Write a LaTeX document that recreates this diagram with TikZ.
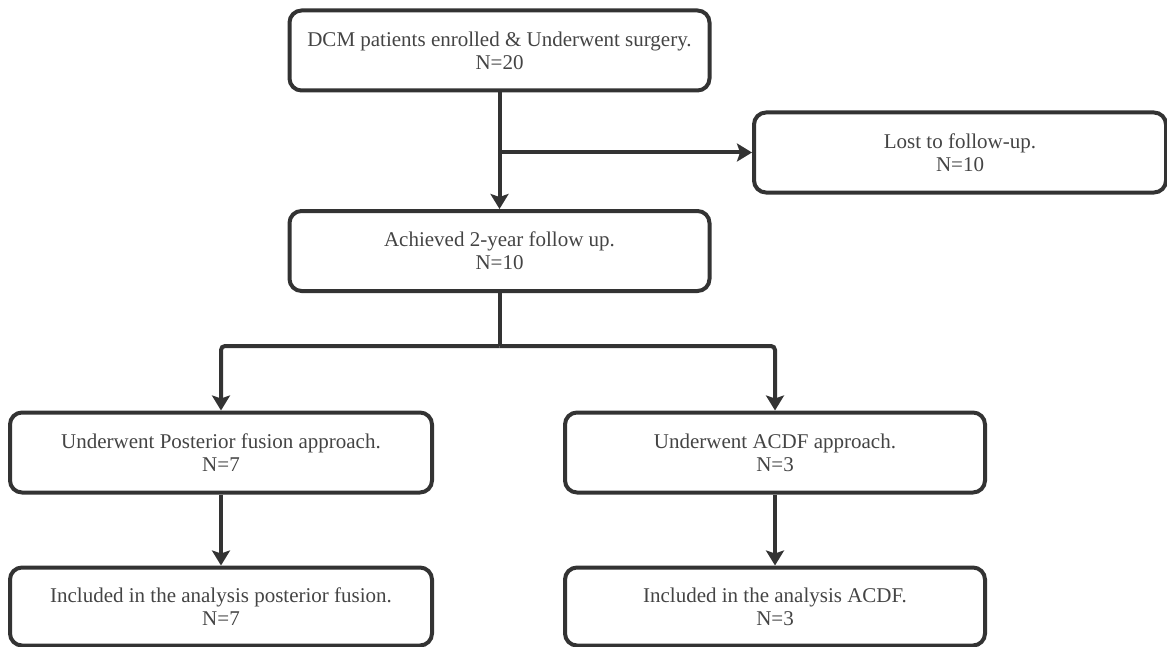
\documentclass[tikz,border=0pt]{standalone}
\usepackage{fontspec}
\setmainfont{Liberation Serif}
\usepackage{tikz}
\usetikzlibrary{arrows.meta}
\definecolor{linegray}{HTML}{333333}
\definecolor{textgray}{HTML}{444444}

\begin{document}
\begin{tikzpicture}[x=0.5pt, y=-0.5pt,
    box/.style = {draw=linegray, line width=2pt, rounded corners=6pt, align=center,
                  text=textgray, font=\fontsize{10.5}{11.5}\selectfont,
                  minimum height=40pt, inner sep=0pt},
    arrow/.style = {draw=linegray, line width=2pt, -{Stealth[length=7.5pt, width=9pt, inset=1.5pt]}},
    link/.style = {draw=linegray, line width=2pt}]
\useasboundingbox (0,0) rectangle (1167,647);
\node [box, minimum width=210pt] (enrolled) at (499.5,50.5) {DCM patients enrolled \& Underwent surgery.\\N=20};
\node [box, minimum width=206pt] (lost) at (960,152.5) {Lost to follow-up.\\N=10};
\node [box, minimum width=210pt] (achieved) at (499.5,251) {Achieved 2-year follow up.\\N=10};
\node [box, minimum width=211pt] (posterior) at (221,452.5) {Underwent Posterior fusion approach.\\N=7};
\node [box, minimum width=210pt] (acdf) at (775,452.5) {Underwent ACDF approach.\\N=3};
\node [box, minimum width=211pt, minimum height=39pt] (postincl) at (221,606.5) {Included in the analysis posterior fusion.\\N=7};
\node [box, minimum width=210pt, minimum height=39pt] (acdfincl) at (775,606.5) {Included in the analysis ACDF.\\N=3};
\coordinate (fork) at (499.5,346);
\draw [arrow] (enrolled) -- (achieved);
\draw [arrow] (enrolled.south |- lost.west) -- (lost.west);
\draw [link] (achieved) -- (fork);
\draw [arrow, rounded corners=2pt] (fork) -| (posterior);
\draw [arrow, rounded corners=2pt] (fork) -| (acdf);
\draw [arrow] (posterior) -- (postincl);
\draw [arrow] (acdf) -- (acdfincl);
\end{tikzpicture}
\end{document}
